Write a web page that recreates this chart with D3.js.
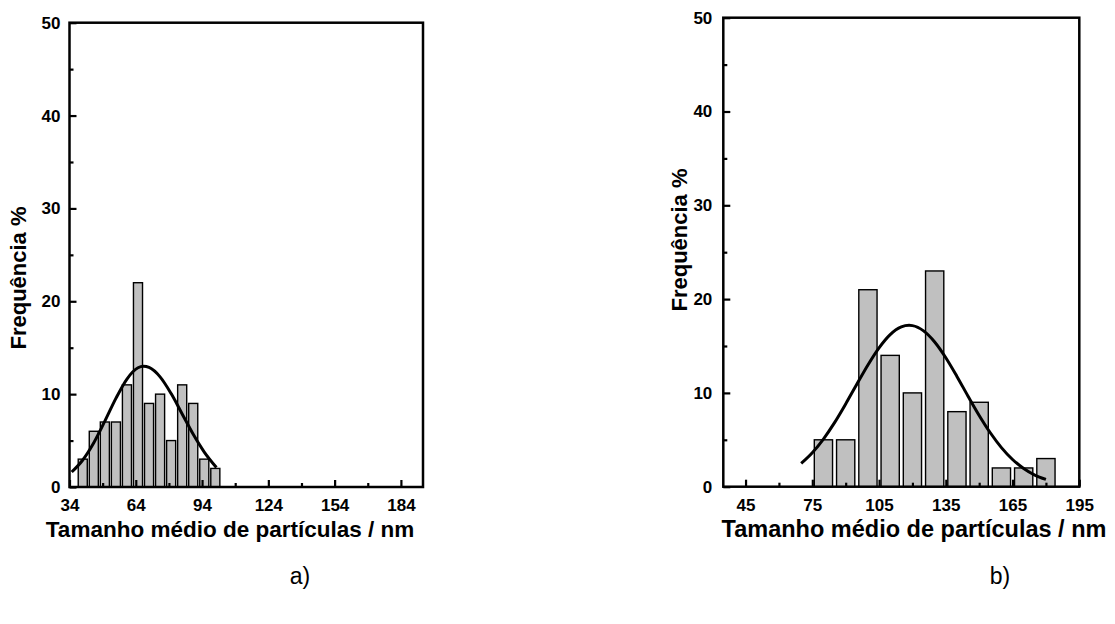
<!DOCTYPE html>
<html>
<head>
<meta charset="utf-8">
<script src="https://cdn.jsdelivr.net/npm/d3@7"></script>
<style>
  html, body { margin: 0; padding: 0; background: #ffffff; }
  svg { display: block; }
  text { font-family: "Liberation Sans", Arial, sans-serif; fill: #000; }
</style>
</head>
<body>
<svg id="chart" width="1115" height="624"></svg>
<script>
// ---------------- DATA ----------------
// Panel a)
const binCentersA = [40, 45, 50, 55, 60, 65, 70, 75, 80, 85, 90, 95, 100];
const frequencyA  = [3, 6, 7, 7, 11, 22, 9, 10, 5, 11, 9, 3, 2];
const binWidthA = 5;
const fitXA = [35, 40, 45, 50, 55, 60, 65, 67.5, 70, 75, 80, 85, 90, 95, 100.5];
const fitYA = [1.61, 2.91, 4.77, 7.09, 9.54, 11.63, 12.84, 13.0, 12.87, 11.86, 10.06, 7.87, 5.67, 3.76, 2.1];
const xTicksA = [34, 64, 94, 124, 154, 184];
const xDomainA = [34, 194];

// Panel b)
const binCentersB = [80, 90, 100, 110, 120, 130, 140, 150, 160, 170, 180];
const frequencyB  = [5, 5, 21, 14, 10, 23, 8, 9, 2, 2, 3];
const binWidthB = 10;
const fitXB = [70, 75, 80, 85, 90, 95, 100, 105, 110, 115, 118.5, 120, 125, 130, 135, 140, 145, 150, 155, 160, 165, 170, 175, 180];
const fitYB = [2.48, 3.62, 5.08, 6.83, 8.82, 10.92, 12.98, 14.80, 16.21, 17.03, 17.2, 17.17, 16.61, 15.43, 13.75, 11.76, 9.65, 7.60, 5.75, 4.17, 2.90, 1.94, 1.24, 0.78];
const xTicksB = [45, 75, 105, 135, 165, 195];
const xDomainB = [35, 195];

// Shared
const yTicks = [0, 10, 20, 30, 40, 50];
const yDomain = [0, 50];
const xTitle = "Tamanho médio de partículas / nm";
const yTitle = "Frequência %";
const panelLabels = ["a)", "b)"];

// ---------------- DRAWING ----------------
const svg = d3.select("#chart");

function drawPanel(opt) {
  const x = d3.scaleLinear().domain(opt.xDomain).range([opt.left, opt.right]);
  const y = d3.scaleLinear().domain(yDomain).range([opt.bottom, opt.top]);
  const g = svg.append("g");

  // bars
  const barFrac = 0.82;
  g.selectAll("rect.bar")
    .data(opt.centers.map((c, i) => ({ c, v: opt.values[i] })))
    .enter().append("rect")
    .attr("class", "bar")
    .attr("x", d => x(d.c - opt.binWidth * barFrac / 2))
    .attr("width", d => x(d.c + opt.binWidth * barFrac / 2) - x(d.c - opt.binWidth * barFrac / 2))
    .attr("y", d => y(d.v))
    .attr("height", d => y(0) - y(d.v))
    .attr("fill", "#c0c0c0")
    .attr("stroke", "#000")
    .attr("stroke-width", 1.4);

  // fit curve
  const line = d3.line()
    .x(d => x(d[0]))
    .y(d => y(d[1]))
    .curve(d3.curveMonotoneX);
  g.append("path")
    .datum(opt.fitX.map((v, i) => [v, opt.fitY[i]]))
    .attr("d", line)
    .attr("fill", "none")
    .attr("stroke", "#000")
    .attr("stroke-width", 3);

  // axes: ticks inward
  const step = opt.xTicks[1] - opt.xTicks[0];
  const minorX = opt.xTicks.map(t => t + step / 2).filter(t => t < opt.xDomain[1]);
  const xAxisMajor = d3.axisBottom(x).tickValues(opt.xTicks).tickSize(-7).tickPadding(12).tickFormat(d3.format("d"));
  const xAxisMinor = d3.axisBottom(x).tickValues(minorX).tickSize(-4).tickFormat("");
  const yMinor = yTicks.slice(0, -1).map(t => t + 5);
  const yAxisMajor = d3.axisLeft(y).tickValues(yTicks).tickSize(-7).tickPadding(opt.yPad).tickFormat(d3.format("d"));
  const yAxisMinor = d3.axisLeft(y).tickValues(yMinor).tickSize(-4).tickFormat("");

  const gx = g.append("g").attr("transform", `translate(0,${opt.bottom})`).call(xAxisMajor);
  const gx2 = g.append("g").attr("transform", `translate(0,${opt.bottom})`).call(xAxisMinor);
  const gy = g.append("g").attr("transform", `translate(${opt.left},0)`).call(yAxisMajor);
  const gy2 = g.append("g").attr("transform", `translate(${opt.left},0)`).call(yAxisMinor);
  [gx, gx2, gy, gy2].forEach(a => {
    a.select(".domain").remove();
    a.selectAll("line").attr("stroke", "#000").attr("stroke-width", 2.2);
    a.selectAll("text")
      .attr("font-family", '"Liberation Sans", Arial, sans-serif')
      .attr("font-size", 17).attr("font-weight", "bold").attr("fill", "#000");
  });

  // frame
  g.append("rect")
    .attr("x", opt.left).attr("y", opt.top)
    .attr("width", opt.right - opt.left).attr("height", opt.bottom - opt.top)
    .attr("fill", "none").attr("stroke", "#000").attr("stroke-width", 2.5);

  // x title
  g.append("text")
    .attr("x", opt.xTitleX).attr("y", opt.bottom + 50)
    .attr("text-anchor", "middle")
    .attr("font-size", opt.xTitleSize).attr("font-weight", "bold")
    .text(xTitle);

  // y title
  g.append("text")
    .attr("transform", `translate(${opt.yTitleX},${opt.yTitleY}) rotate(-90)`)
    .attr("text-anchor", "middle")
    .attr("font-size", 22).attr("font-weight", "bold")
    .text(yTitle);

  // panel label
  g.append("text")
    .attr("x", opt.labelX).attr("y", 584)
    .attr("text-anchor", "middle")
    .attr("font-size", 23)
    .text(opt.label);
}

drawPanel({
  centers: binCentersA, values: frequencyA, binWidth: binWidthA,
  fitX: fitXA, fitY: fitYA, xTicks: xTicksA, xDomain: xDomainA,
  left: 69.5, right: 423, top: 22.7, bottom: 487,
  yPad: 9, xTitleX: 230, xTitleSize: 22.5, yTitleX: 26, yTitleY: 278,
  labelX: 300, label: panelLabels[0]
});

drawPanel({
  centers: binCentersB, values: frequencyB, binWidth: binWidthB,
  fitX: fitXB, fitY: fitYB, xTicks: xTicksB, xDomain: xDomainB,
  left: 723.3, right: 1079.3, top: 17.7, bottom: 486.7,
  yPad: 11, xTitleX: 914, xTitleSize: 23.5, yTitleX: 687, yTitleY: 240,
  labelX: 1000, label: panelLabels[1]
});
</script>
</body>
</html>
